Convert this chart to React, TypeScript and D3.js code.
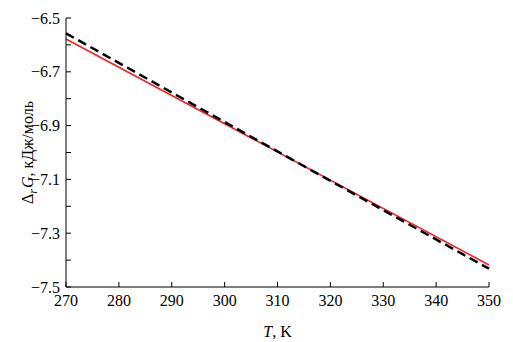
import React from "react";
import * as d3 from "d3";

const xTicks = [270, 280, 290, 300, 310, 320, 330, 340, 350];
const yMajor = [-6.5, -6.7, -6.9, -7.1, -7.3, -7.5];
const yMinor = [-6.6, -6.8, -7.0, -7.2, -7.4];
const redT = [270, 350];
const redG = [-6.578, -7.418];
const blackT = [270, 310, 350];
const blackG = [-6.557, -6.996, -7.432];

const W = 513, H = 342;
const m = { left: 66, right: 489, top: 18, bottom: 287 };
const font = "Liberation Serif, Times New Roman, serif";

export default function App() {
  const x = d3.scaleLinear().domain([270, 350]).range([m.left, m.right]);
  const y = d3.scaleLinear().domain([-6.5, -7.5]).range([m.top, m.bottom]);
  const line = d3.line<[number, number]>().x(d => x(d[0])).y(d => y(d[1]));
  const red = line(redT.map((t, i) => [t, redG[i]]))!;
  const black = line.curve(d3.curveMonotoneX)(blackT.map((t, i) => [t, blackG[i]]))!;
  const fmt = (v: number) => v.toFixed(1).replace("-", "\u2212");
  return (
    <svg width={W} height={H} style={{ position: "absolute", left: 0, top: 0, fontFamily: font }}>
      <rect width={W} height={H} fill="#fff" />
      <path d={red} stroke="#e8262b" strokeWidth={1.6} fill="none" />
      <path d={black} stroke="#000" strokeWidth={2.5} strokeDasharray="9,5" fill="none" />
      <line x1={m.left} x2={m.left} y1={m.top} y2={m.bottom} stroke="#000" strokeWidth={1} />
      <line x1={m.left} x2={m.right} y1={m.bottom} y2={m.bottom} stroke="#000" strokeWidth={1} />
      {yMajor.map(v => (
        <g key={v}>
          <line x1={m.left} x2={m.left + 5} y1={y(v)} y2={y(v)} stroke="#000" />
          <text x={m.left - 6} y={y(v)} dy="0.35em" textAnchor="end" fontSize={16}>{fmt(v)}</text>
        </g>
      ))}
      {yMinor.map(v => (
        <line key={v} x1={m.left} x2={m.left + 5} y1={y(v)} y2={y(v)} stroke="#000" />
      ))}
      {xTicks.map(v => (
        <g key={v}>
          <line x1={x(v)} x2={x(v)} y1={m.bottom} y2={m.bottom - 5} stroke="#000" />
          <text x={x(v)} y={306} textAnchor="middle" fontSize={16}>{v}</text>
        </g>
      ))}
      <text x={(m.left + m.right) / 2} y={337} textAnchor="middle" fontSize={16}>
        <tspan fontStyle="italic">T</tspan>
        <tspan>, K</tspan>
      </text>
      <text transform={`translate(33,${(m.top + m.bottom) / 2}) rotate(-90)`} textAnchor="middle" fontSize={16}>
        <tspan>{"\u0394"}</tspan>
        <tspan fontStyle="italic" fontSize={12} dy={4}>r</tspan>
        <tspan fontStyle="italic" dy={-4} dx={1}>G</tspan>
        <tspan>{", кДж/моль"}</tspan>
      </text>
    </svg>
  );
}
